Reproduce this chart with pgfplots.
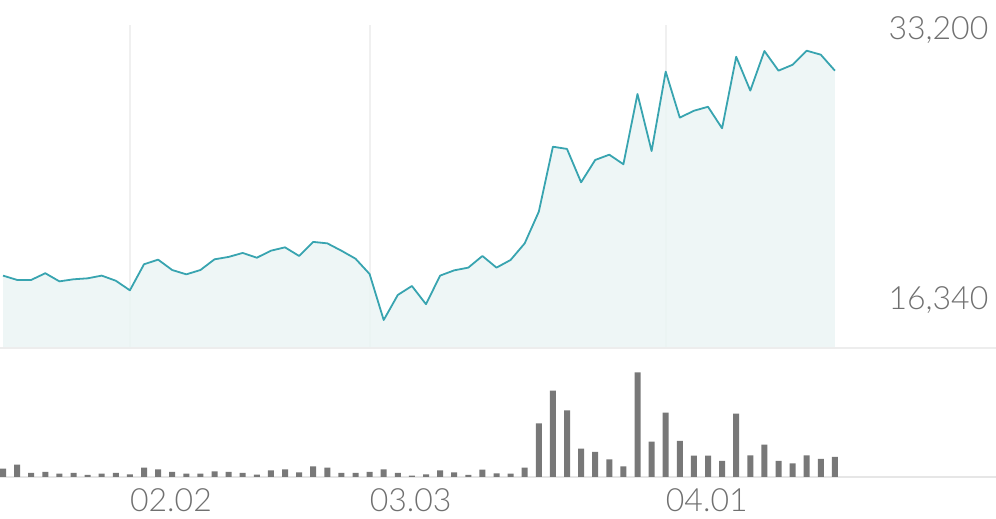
\documentclass[border=0pt]{standalone}
\usepackage{fontspec}
\setmainfont{Lato Light}
\usepackage{pgfplots}
\pgfplotsset{compat=1.18}
\usepackage{pgfplotstable}
\definecolor{linec}{HTML}{38A4B0}
\definecolor{fillc}{HTML}{EBF5F4}
\definecolor{gridc}{HTML}{F0F0F0}
\definecolor{basec}{HTML}{E6E6E6}
\definecolor{barc}{HTML}{787878}
\definecolor{txtc}{HTML}{707070}
\pgfplotstableread{
k price vol
0 19120 8.3
1 18850 12.3
2 18850 4
3 19270 5
4 18760 3.3
5 18890 4
6 18950 2
7 19120 3.3
8 18800 4
9 18200 2.7
10 19830 9.3
11 20120 7.7
12 19470 5
13 19200 3.3
14 19470 3.3
15 20140 5.7
16 20290 5
17 20540 4
18 20240 2.3
19 20680 6.7
20 20890 7.7
21 20350 4.7
22 21230 10.7
23 21140 9.3
24 20680 4
25 20180 4
26 19220 5
27 16340 7.7
28 17910 4
29 18470 1.3
30 17330 2.7
31 19120 6.7
32 19450 4.7
33 19620 2
34 20350 7.3
35 19620 3.7
36 20100 3.3
37 21140 9.3
38 23120 53.7
39 27190 86.3
40 27050 66.7
41 24960 28.3
42 26360 25
43 26690 17.7
44 26090 10.7
45 30490 104.7
46 26920 35.3
47 31890 64.3
48 29010 36
49 29440 21.3
50 29690 21.3
51 28340 16
52 32820 63.3
53 30700 21.7
54 33180 32.3
55 31950 16
56 32320 13.7
57 33200 21.7
58 32950 18
59 31950 20
}\datatable
\begin{document}
\begin{tikzpicture}
\useasboundingbox (0pt,0pt) rectangle (996pt,519pt);
% price panel
\begin{axis}[
  at={(0pt,171pt)}, anchor=south west,
  scale only axis, width=996pt, height=323pt,
  xmin=-0.2128, xmax=70.426,
  ymin=14589, ymax=34809,
  hide axis, clip=false,
]
\draw[gridc, line width=1.8pt] (axis cs:9,14589) -- (axis cs:9,34809);
\draw[gridc, line width=1.8pt] (axis cs:26,14589) -- (axis cs:26,34809);
\draw[gridc, line width=1.8pt] (axis cs:47,14589) -- (axis cs:47,34809);
\addplot[fill=fillc, fill opacity=0.85, draw=none] table[x=k, y=price] {\datatable} \closedcycle;
\addplot[linec, line width=1.8pt, line join=round, mark=none] table[x=k, y=price] {\datatable};
\draw[basec!70, line width=1.5pt] (rel axis cs:0,0) -- (rel axis cs:1,0);
\node[anchor=east, text=txtc, font=\fontsize{32}{32}\selectfont, inner sep=0pt] at (rel axis cs:0.9925,0.985) {33,200};
\node[anchor=east, text=txtc, font=\fontsize{32}{32}\selectfont, inner sep=0pt] at (rel axis cs:0.9925,0.149) {16,340};
\end{axis}
% volume panel
\begin{axis}[
  at={(0pt,42pt)}, anchor=south west,
  scale only axis, width=996pt, height=117pt,
  xmin=-0.2128, xmax=70.426,
  ymin=0, ymax=117,
  hide axis, clip=false,
]
\draw[basec, line width=2.5pt] (rel axis cs:0,0) -- (rel axis cs:1,0);
\addplot[ybar, bar width=6pt, fill=barc, draw=none] table[x=k, y=vol] {\datatable};
\node[anchor=west, text=txtc, font=\fontsize{32}{32}\selectfont, inner sep=0pt] at (axis cs:9,-23) {02.02};
\node[anchor=west, text=txtc, font=\fontsize{32}{32}\selectfont, inner sep=0pt] at (axis cs:26,-23) {03.03};
\node[anchor=west, text=txtc, font=\fontsize{32}{32}\selectfont, inner sep=0pt] at (axis cs:47,-23) {04.01};
\end{axis}
\end{tikzpicture}
\end{document}
